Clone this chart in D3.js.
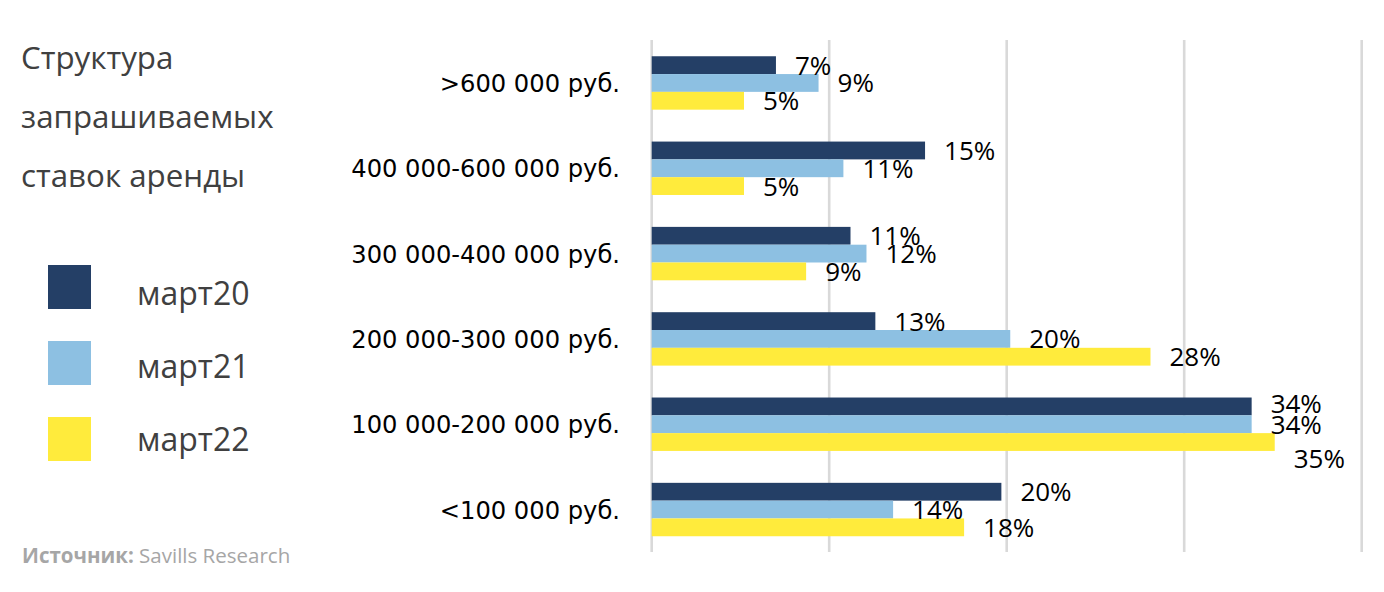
<!DOCTYPE html>
<html><head><meta charset="utf-8">
<script src="https://cdn.jsdelivr.net/npm/d3@7/dist/d3.min.js"></script>
<style>html,body{margin:0;padding:0;background:#fff;}svg{display:block;}</style>
</head><body>
<svg id="chart" width="1384" height="592"></svg>
<script>
const categories = [">600 000 руб.", "400 000-600 000 руб.", "300 000-400 000 руб.", "200 000-300 000 руб.", "100 000-200 000 руб.", "<100 000 руб."];
const seriesNames = ["март20", "март21", "март22"];
const mart20 = [7.0, 15.4, 11.2, 12.6, 33.8, 19.7];
const mart21 = [9.4, 10.8, 12.1, 20.2, 33.8, 13.6];
const mart22 = [5.2, 5.2, 8.7, 28.1, 35.1, 17.6];
const xTicks = [0, 10, 20, 30, 40];
const titleLines = ["Структура", "запрашиваемых", "ставок аренды"];
const colors = ["#243F66", "#8DC0E2", "#FFEB3C"];

const series = [mart20, mart21, mart22];
const svg = d3.select("#chart");

const x = d3.scaleLinear().domain([0, 40]).range([651.7, 1361.7]);
const y = d3.scaleBand().domain(categories).range([40.3, 552.2]).paddingInner(0.374).paddingOuter(0.187);
const ys = d3.scaleBand().domain(seriesNames).range([0, y.bandwidth()]);

// gridlines
svg.append("g").selectAll("line").data(xTicks).join("line")
  .attr("x1", d => x(d)).attr("x2", d => x(d))
  .attr("y1", 40).attr("y2", 552)
  .attr("stroke", "#d9d9d9").attr("stroke-width", 2.6);

// bars
const groups = svg.append("g").selectAll("g").data(categories).join("g")
  .attr("transform", c => `translate(0,${y(c)})`);
groups.each(function(c, ci) {
  const g = d3.select(this);
  seriesNames.forEach((s, si) => {
    const v = series[si][ci];
    g.append("rect")
      .attr("x", x(0)).attr("y", ys(s))
      .attr("width", x(v) - x(0)).attr("height", ys.bandwidth())
      .attr("fill", colors[si]);
  });
});

// data labels
const labelShift = {"4-0": -3, "4-2": 16};
groups.each(function(c, ci) {
  const g = d3.select(this);
  seriesNames.forEach((s, si) => {
    const v = series[si][ci];
    g.append("text")
      .attr("x", x(v) + 19)
      .attr("y", ys(s) + ys.bandwidth() / 2 + 9.5 + (labelShift[ci + "-" + si] || 0))
      .attr("font-family", "Open Sans, sans-serif")
      .attr("font-size", 26)
      .attr("fill", "#000")
      .text(d3.format(".0f")(v) + "%");
  });
});

// category axis labels
svg.append("g").selectAll("text").data(categories).join("text")
  .attr("x", 620).attr("y", c => y(c) + y.bandwidth() / 2 + 9)
  .attr("text-anchor", "end")
  .attr("font-family", "DejaVu Sans, sans-serif")
  .attr("font-size", 24.2)
  .attr("fill", "#000")
  .text(c => c);

// title
svg.append("g").selectAll("text").data(titleLines).join("text")
  .attr("x", 21).attr("y", (d, i) => 69 + i * 58.8)
  .attr("font-family", "Open Sans, sans-serif")
  .attr("font-size", 31.3)
  .attr("fill", "#404040")
  .text(d => d);

// legend
const legendSquareY = [265, 341, 417];
const legendTextY = [305, 378, 451];
const lg = svg.append("g");
seriesNames.forEach((s, i) => {
  lg.append("rect").attr("x", 48).attr("y", legendSquareY[i]).attr("width", 43).attr("height", 44).attr("fill", colors[i]);
  lg.append("text").attr("x", 137).attr("y", legendTextY[i])
    .attr("font-family", "Open Sans, sans-serif").attr("font-size", 32).attr("fill", "#404040").text(s);
});

// source
const src = svg.append("text").attr("x", 22).attr("y", 563)
  .attr("font-family", "Open Sans, sans-serif").attr("font-size", 20.5).attr("fill", "#a6a6a6");
src.append("tspan").attr("font-weight", "bold").text("Источник:");
src.append("tspan").text(" Savills Research");
</script>
</body></html>
